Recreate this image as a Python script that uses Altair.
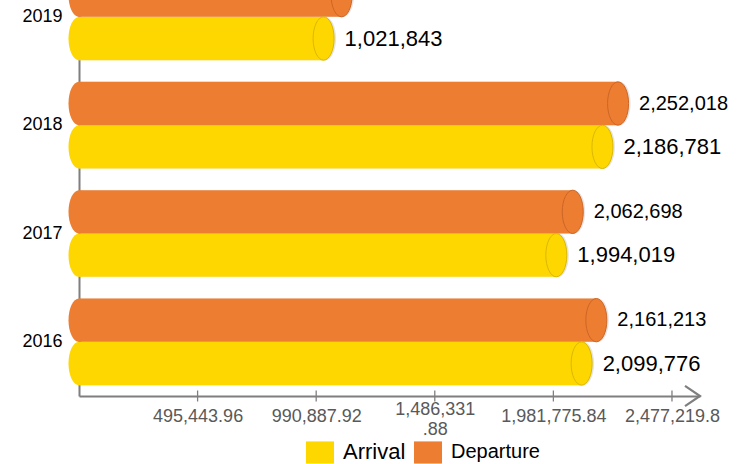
import altair as alt
import pandas as pd

# ---- data ----
years = ["2019", "2018", "2017", "2016"]
arrival = [1021843, 2186781, 1994019, 2099776]
departure = [1097000, 2252018, 2062698, 2161213]  # 2019 departure estimated (cut off)
series = ["Arrival", "Departure"]
colors = ["#FFD700", "#ED7D31"]
edge_colors = ["#D9B800", "#CC6626"]
tick_values = [495443.96, 990887.92, 1486331.88, 1981775.84, 2477219.8]
x_max = 2594300

rows = []
for i, yr in enumerate(years):
    rows.append({"year": yr, "series": "Arrival", "value": arrival[i]})
    rows.append({"year": yr, "series": "Departure", "value": departure[i]})
df = pd.DataFrame(rows)
ticks_df = pd.DataFrame({"v": tick_values})
arrow_df = pd.DataFrame({"v": [x_max]})

W, H = 621, 396
FONT = "Liberation Sans"
GRAY = "#7f7f7f"

ELLIPSE = "M -0.485 0 A 0.485 1 0 1 0 0.485 0 A 0.485 1 0 1 0 -0.485 0 Z"
RECT = "M -1 -0.79 L 1 -0.79 L 1 0.79 L -1 0.79 Z"
CHEVRON = "M -1 -0.67 L 0 0 L -1 0.67"
CAP_SIZE = 1875

x_scale = alt.Scale(domain=[0, x_max], nice=False, zero=True)
x_axis = alt.Axis(
    values=tick_values, format=",.2~f",
    labelExpr="datum.label == '1,486,331.88' ? ['1,486,331', '.88'] : datum.label",
    ticks=False, grid=False, title=None,
    domainColor=GRAY, domainWidth=2,
    labelColor="#595959", labelFontSize=18, labelFont=FONT,
    labelPadding={"condition": {"test": "datum.value > 1400000 && datum.value < 1600000", "value": 13},
                  "value": 20},
    labelBaseline="middle", labelLineHeight=20,
    labelFlush=False, labelOverlap=False,
)
y_scale = alt.Scale(domain=years, range=[-37.3, H], paddingInner=0.2, paddingOuter=0.1)
y_axis = alt.Axis(
    title=None, ticks=False, grid=False,
    labelFontSize=18, labelFont=FONT, labelColor="#000000", labelPadding=17,
    domainColor=GRAY, domainWidth=2,
)

def X(field="value:Q"):
    return alt.X(field, scale=x_scale, axis=x_axis)

Y = alt.Y("year:N", sort=years, scale=y_scale, axis=y_axis)
YOFF = alt.YOffset("series:N", sort=["Departure", "Arrival"],
                   scale=alt.Scale(domain=["Departure", "Arrival"], paddingInner=0, paddingOuter=0))

base = alt.Chart(df)

shadow = base.mark_bar(color="#000000", opacity=0.10, yOffset=3, xOffset=2).encode(
    x=X(), y=Y, yOffset=YOFF
)

bars = base.mark_bar().encode(
    x=X(), y=Y, yOffset=YOFF,
    color=alt.Color(
        "series:N",
        scale=alt.Scale(domain=series, range=colors),
        legend=alt.Legend(
            title=None, orient="none", legendX=227, legendY=438,
            direction="horizontal", symbolType=RECT, symbolSize=784,
            symbolStrokeWidth=0, symbolOpacity=1,
            labelFont=FONT,
            labelFontSize={"expr": "datum.label == 'Arrival' ? 22 : 20"},
            labelColor="#000000", labelOffset=9, columnPadding=8, padding=0,
        ),
    ),
)

left_caps = base.transform_calculate(zero="0").mark_point(
    shape=ELLIPSE, size=CAP_SIZE, filled=True, opacity=1, strokeWidth=0
).encode(
    x=X("zero:Q"), y=Y, yOffset=YOFF,
    fill=alt.Fill("series:N", scale=alt.Scale(domain=series, range=colors), legend=None),
)

cap_shadow = base.mark_point(
    shape=ELLIPSE, size=CAP_SIZE, filled=True, opacity=0.10, strokeWidth=0,
    color="#000000", yOffset=3, xOffset=2
).encode(x=X(), y=Y, yOffset=YOFF)

right_caps = base.mark_point(
    shape=ELLIPSE, size=CAP_SIZE, filled=True, opacity=1, strokeWidth=1
).encode(
    x=X(), y=Y, yOffset=YOFF,
    fill=alt.Fill("series:N", scale=alt.Scale(domain=series, range=colors), legend=None),
    stroke=alt.Stroke("series:N", scale=alt.Scale(domain=series, range=edge_colors), legend=None),
)

# the 2019 departure label lies outside the visible crop in the reference
labels = base.transform_filter(
    "!(datum.year == '2019' && datum.series == 'Departure')"
).mark_text(align="left", baseline="middle", dx=21, font=FONT, color="#000000").encode(
    x=X(), y=Y, yOffset=YOFF,
    text=alt.Text("value:Q", format=","),
    size=alt.Size("series:N", scale=alt.Scale(domain=series, range=[22, 20]), legend=None),
)

tick_marks = alt.Chart(ticks_df).mark_tick(
    orient="vertical", size=11, thickness=1.3, color=GRAY, opacity=1
).encode(x=X("v:Q"), y=alt.value(H))

arrow = alt.Chart(arrow_df).mark_point(
    shape=CHEVRON, size=900, filled=False, strokeWidth=2.2, color=GRAY, opacity=1
).encode(x=X("v:Q"), y=alt.value(H))

chart = alt.layer(
    tick_marks, arrow, shadow, cap_shadow, bars, left_caps, right_caps, labels
).resolve_scale(fill="independent", stroke="independent", size="independent").properties(
    width=W, height=H,
    padding={"left": 79, "top": 0, "right": 44, "bottom": 68},
    autosize="none", background="#ffffff",
).configure_view(stroke=None)

chart.save("out.html", embed_options={"renderer": "svg", "actions": False})
